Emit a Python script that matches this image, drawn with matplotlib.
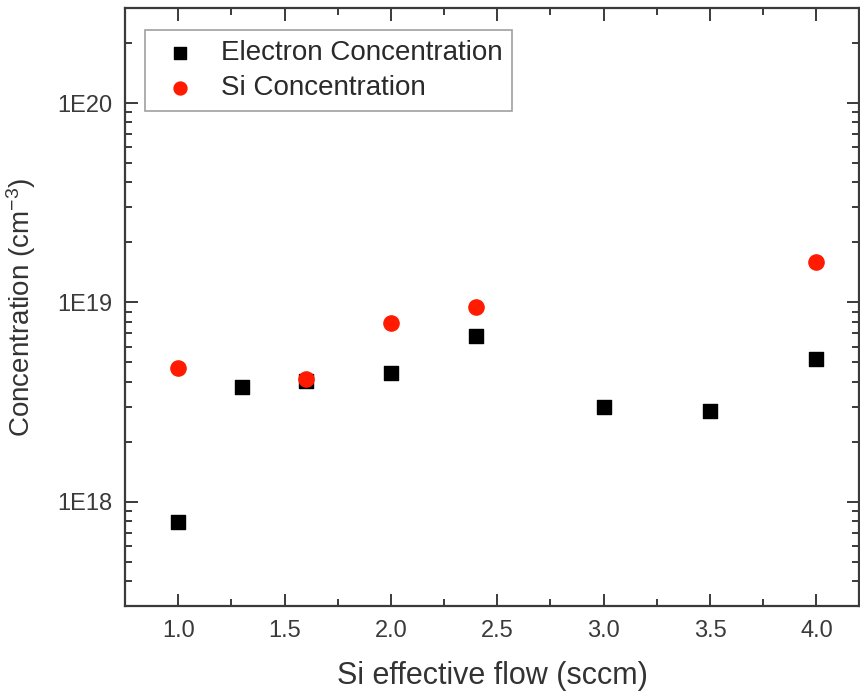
import matplotlib
matplotlib.use("Agg")
import matplotlib.pyplot as plt
from matplotlib.ticker import MultipleLocator, LogLocator, FixedLocator, NullFormatter

plt.rcParams['font.family'] = ['Liberation Sans', 'DejaVu Sans']
plt.rcParams['mathtext.fontset'] = 'custom'
plt.rcParams['mathtext.rm'] = 'Liberation Sans'
plt.rcParams['mathtext.default'] = 'regular'

# Electron concentration measured at each Si flow
electron_flow = [1.0, 1.3, 1.6, 2.0, 2.4, 3.0, 3.5, 4.0]
electron_conc = [7.9e17, 3.75e18, 4.05e18, 4.45e18, 6.8e18, 3.0e18, 2.85e18, 5.2e18]

# Si concentration (SIMS) at selected flows
si_flow = [1.0, 1.6, 2.0, 2.4, 4.0]
si_conc = [4.7e18, 4.15e18, 7.85e18, 9.5e18, 1.6e19]

y_ticks = [1e18, 1e19, 1e20]
y_ticklabels = ["1E18", "1E19", "1E20"]
x_ticks = [1.0, 1.5, 2.0, 2.5, 3.0, 3.5, 4.0]

fig = plt.figure(figsize=(8.6, 6.96), dpi=100)
ax = fig.add_axes([0.1453, 0.1293, 0.8535, 0.8592])

ax.scatter(electron_flow, electron_conc, marker='s', s=105, color='black',
           label='Electron Concentration', zorder=3)
ax.scatter(si_flow, si_conc, marker='o', s=120, color='#ff1a00',
           label='Si Concentration', zorder=3)

ax.set_yscale('log')
ax.set_xlim(0.75, 4.2)
ax.set_ylim(3e17, 3e20)

ax.xaxis.set_major_locator(FixedLocator(x_ticks))
ax.xaxis.set_minor_locator(MultipleLocator(0.25))
ax.set_xticklabels([f"{v:.1f}" for v in x_ticks])
ax.yaxis.set_major_locator(FixedLocator(y_ticks))
ax.set_yticklabels(y_ticklabels)
ax.yaxis.set_minor_locator(LogLocator(base=10, subs=range(2, 10)))
ax.yaxis.set_minor_formatter(NullFormatter())

spine_color = '#3a3a3a'
for sp in ax.spines.values():
    sp.set_linewidth(1.6)
    sp.set_color(spine_color)

ax.tick_params(which='both', direction='in', top=True, right=True,
               color=spine_color, width=1.4, labelcolor='#3a3a3a')
ax.tick_params(which='major', length=9, labelsize=17)
ax.tick_params(which='minor', length=5)
ax.tick_params(axis='x', which='major', pad=10)
ax.tick_params(axis='y', which='major', pad=9)

ax.set_xlabel('Si effective flow (sccm)', fontsize=22, color='#333333', labelpad=14)
ax.set_ylabel('Concentration (cm$^{-3}$)', fontsize=20, color='#333333', labelpad=14)

leg = ax.legend(loc='upper left', bbox_to_anchor=(0.027, 0.963), fontsize=20,
                frameon=True, fancybox=False, edgecolor='#888888',
                handletextpad=0.52, borderpad=0.36, labelspacing=0.33,
                handlelength=1.85, borderaxespad=0, scatterpoints=1,
                markerscale=0.85)
leg.get_frame().set_linewidth(1.2)
for t in leg.get_texts():
    t.set_color('#2a2a2a')

fig.savefig('out.png', dpi=100)
